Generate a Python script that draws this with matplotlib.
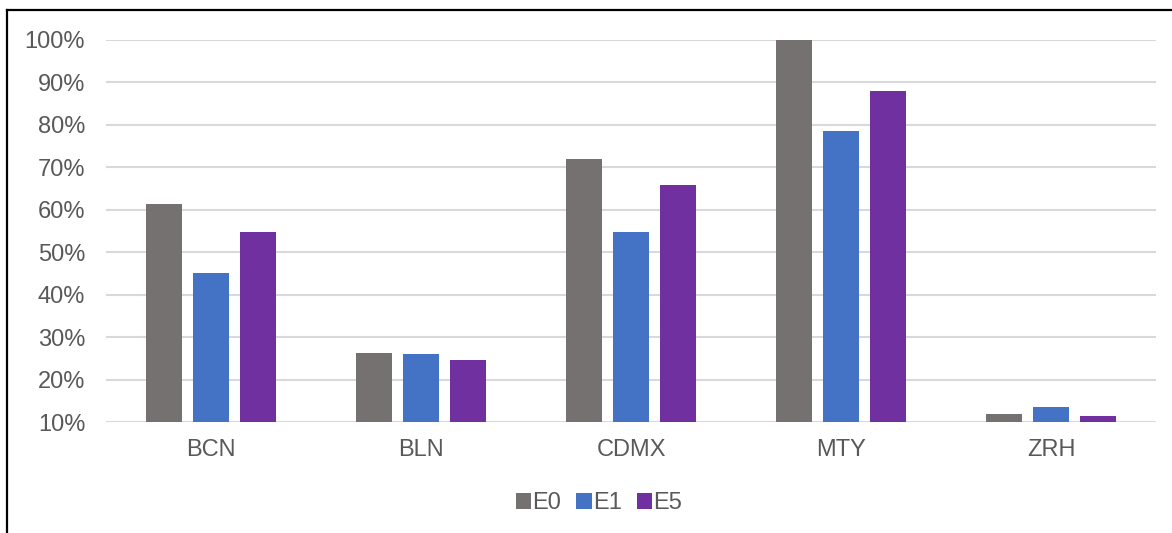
import matplotlib
matplotlib.use("Agg")
import matplotlib.pyplot as plt
from matplotlib.lines import Line2D
from matplotlib.patches import Patch
from matplotlib.ticker import FuncFormatter
import numpy as np

plt.rcParams['font.family'] = ['Liberation Sans', 'DejaVu Sans']

# Data
cities = ["BCN", "BLN", "CDMX", "MTY", "ZRH"]
series_names = ["E0", "E1", "E5"]
e0 = [61.4, 26.4, 72.0, 100.0, 11.9]
e1 = [45.1, 26.0, 54.8, 78.5, 13.7]
e5 = [54.9, 24.7, 65.9, 87.9, 11.4]
y_ticks = [10, 20, 30, 40, 50, 60, 70, 80, 90, 100]

colors = ["#767171", "#4472C4", "#7030A0"]
text_color = "#595959"
fs = 17

W, H = 1172, 533
fig = plt.figure(figsize=(W / 100, H / 100), dpi=100)
ax = fig.add_axes([106 / W, 1 - 422.3 / H, (1156 - 106) / W, (422.3 - 40) / H])

x = np.arange(len(cities))
bar_w = 0.175
step = 0.224
for i, (vals, c, name) in enumerate(zip([e0, e1, e5], colors, series_names)):
    ax.bar(x + (i - 1) * step, np.array(vals) - 10, bottom=10, width=bar_w,
           color=c, label=name, zorder=3)

ax.set_xlim(-0.5, len(cities) - 0.5)
ax.set_ylim(10, 100)
ax.set_yticks(y_ticks)
ax.yaxis.set_major_formatter(FuncFormatter(lambda v, p: f"{v:.0f}%"))
ax.set_xticks(x)
ax.set_xticklabels(cities)
ax.grid(axis="y", color="#D9D9D9", linewidth=1.5, zorder=0)
ax.grid(axis="x", visible=False)
for s in ax.spines.values():
    s.set_visible(False)
ax.tick_params(axis="both", length=0, labelsize=fs, colors=text_color)
ax.tick_params(axis="y", pad=15)
ax.tick_params(axis="x", pad=12)

handles = [Patch(facecolor=c, edgecolor="none") for c in colors]
fig.legend(handles, series_names, loc="center", bbox_to_anchor=(599 / W, 1 - 503 / H),
           ncol=3, frameon=False, fontsize=fs, handlelength=0.65, handleheight=0.65,
           handletextpad=0.05, columnspacing=0.65, labelcolor=text_color)

# Outer frame lines (left and top)
fig.add_artist(Line2D([6.5 / W, 6.5 / W], [0, 1 - 10 / H], transform=fig.transFigure,
                      color="black", linewidth=1.6))
fig.add_artist(Line2D([6.5 / W, 1], [1 - 10 / H, 1 - 10 / H], transform=fig.transFigure,
                      color="black", linewidth=1.6))

fig.savefig("out.png", dpi=100, facecolor="white")
